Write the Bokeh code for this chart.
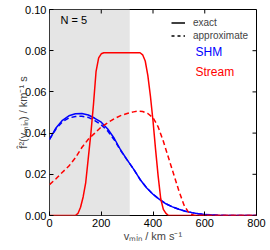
import math
from bokeh.plotting import figure
from bokeh.models import (BoxAnnotation, Label, Legend, LegendItem,
                          FixedTicker, PrintfTickFormatter, Range1d)
from bokeh.embed import file_html
from bokeh.resources import INLINE

# ---- data ----
shm_v = [0, 25, 50, 75, 100, 125, 150, 175, 200, 225, 250, 275, 300, 325, 350,
         375, 400, 425, 450, 475, 500, 525, 550, 575, 600, 650, 700, 800]
shm_exact = [0.037, 0.0425, 0.0462, 0.0484, 0.0494, 0.0495, 0.0488, 0.0472, 0.0453,
             0.042, 0.0375, 0.0318, 0.027, 0.0225, 0.0175, 0.0135, 0.0103, 0.0078,
             0.0057, 0.0042, 0.003, 0.0021, 0.0014, 0.0009, 0.0005, 0.0001, 0.0, 0.0]
shm_approx = [0.037, 0.042, 0.0455, 0.0473, 0.0481, 0.0482, 0.0476, 0.0461, 0.044,
              0.041, 0.0368, 0.0315, 0.027, 0.0225, 0.0175, 0.0135, 0.0103, 0.0078,
              0.0057, 0.0042, 0.003, 0.0021, 0.0014, 0.0009, 0.0005, 0.0001, 0.0, 0.0]

stream_exact_v = [0, 50, 100, 110, 120, 130, 140, 150, 160, 170, 180, 190, 200, 210,
                  250, 300, 350, 360, 370, 380, 390, 400, 410, 420, 430, 440, 450,
                  460, 500, 800]
stream_exact = [0, 0, 0, 0.001, 0.004, 0.009, 0.016, 0.028, 0.040, 0.054, 0.070,
                0.0765, 0.0785, 0.079, 0.079, 0.079, 0.079, 0.078, 0.075, 0.068,
                0.058, 0.046, 0.032, 0.019, 0.008, 0.003, 0.001, 0, 0, 0]

stream_approx_v = [0, 25, 50, 75, 100, 125, 150, 175, 200, 225, 250, 275, 300, 325,
                   340, 360, 380, 400, 420, 440, 460, 480, 500, 520, 540, 560, 800]
stream_approx = [0.015, 0.0178, 0.021, 0.024, 0.028, 0.033, 0.037, 0.040, 0.043,
                 0.045, 0.047, 0.0485, 0.0495, 0.0503, 0.0507, 0.0505, 0.0495,
                 0.0475, 0.043, 0.036, 0.028, 0.020, 0.012, 0.005, 0.001, 0.0, 0.0]

shade_start, shade_end = 0, 310
x_min, x_max = 0, 800
y_min, y_max = 0.0, 0.10
x_ticks = [0, 200, 400, 600, 800]
y_ticks = [0.0, 0.02, 0.04, 0.06, 0.08, 0.10]

FONT = "Liberation Sans"

p = figure(frame_width=207, frame_height=206, output_backend="svg",
           toolbar_location=None,
           x_range=Range1d(x_min, x_max), y_range=Range1d(y_min, y_max),
           min_border_left=49, min_border_right=12, min_border_top=9,
           min_border_bottom=33)
p.xgrid.visible = False
p.ygrid.visible = False
p.outline_line_color = "black"
p.outline_line_width = 1
p.background_fill_color = "white"
p.border_fill_color = "white"

p.add_layout(BoxAnnotation(left=shade_start, right=shade_end, fill_color="#e5e5e5",
                           fill_alpha=1.0, line_color=None, level="underlay"))

p.line(shm_v, shm_exact, line_color="#0000ff", line_width=1.5)
p.line(shm_v, shm_approx, line_color="#0000ff", line_width=1.5, line_dash="5 3")
p.line(stream_exact_v, stream_exact, line_color="#ff0000", line_width=1.5)
p.line(stream_approx_v, stream_approx, line_color="#ff0000", line_width=1.5,
       line_dash="5 3")

# ticks on the top and right edges (inward), as in the reference
p.ray(x=x_ticks, y=[y_max] * len(x_ticks), length=4, length_units="screen",
      angle=-math.pi / 2, line_color="black", line_width=1)
p.ray(x=[x_max] * len(y_ticks), y=y_ticks, length=4, length_units="screen",
      angle=math.pi, line_color="black", line_width=1)

nan = float("nan")
r_exact = p.line([nan], [nan], line_color="black", line_width=1.5)
r_approx = p.line([nan], [nan], line_color="black", line_width=1.5, line_dash="3 3")
legend = Legend(items=[LegendItem(label="exact", renderers=[r_exact]),
                       LegendItem(label="approximate", renderers=[r_approx])],
                location=(122, 174), background_fill_alpha=0, border_line_color=None,
                label_text_font=FONT, label_text_font_size="10px",
                glyph_width=14, glyph_height=11, label_height=11, spacing=2,
                padding=2, margin=0, label_standoff=8)
p.add_layout(legend)

p.add_layout(Label(x=195 - 49, y=215 - 51, x_units="screen", y_units="screen",
                   text="SHM", text_color="#0000ff", text_font=FONT,
                   text_font_size="12px", text_baseline="middle"))
p.add_layout(Label(x=195 - 49, y=215 - 71, x_units="screen", y_units="screen",
                   text="Stream", text_color="#ff0000", text_font=FONT,
                   text_font_size="12px", text_baseline="middle"))
p.add_layout(Label(x=60 - 49, y=215 - 19, x_units="screen", y_units="screen",
                   text="N = 5", text_color="black", text_font=FONT,
                   text_font_size="11px", text_baseline="middle"))

for ax in p.xaxis:
    ax.ticker = FixedTicker(ticks=x_ticks)
for ax in p.yaxis:
    ax.ticker = FixedTicker(ticks=y_ticks)
    ax.formatter = PrintfTickFormatter(format="%.2f")

for ax in list(p.xaxis) + list(p.yaxis):
    ax.major_tick_in = 4
    ax.major_tick_out = 0
    ax.minor_tick_in = 0
    ax.minor_tick_out = 0
    ax.axis_line_color = None
    ax.major_tick_line_color = "black"
    ax.major_label_text_font = FONT
    ax.major_label_text_font_size = "11px"
    ax.major_label_text_color = "black"
    ax.major_label_standoff = 3
    ax.axis_label_text_font = FONT
    ax.axis_label_text_font_size = "11px"
    ax.axis_label_text_font_style = "normal"
    ax.axis_label_standoff = 0

for ax in p.yaxis:
    ax.axis_label_standoff = -7

p.xaxis.axis_label = "vₘᵢₙ / km s⁻¹"
p.yaxis.axis_label = "f̂²(vₘᵢₙ) / km⁻¹ s"

open("out.html", "w").write(file_html(p, INLINE))
